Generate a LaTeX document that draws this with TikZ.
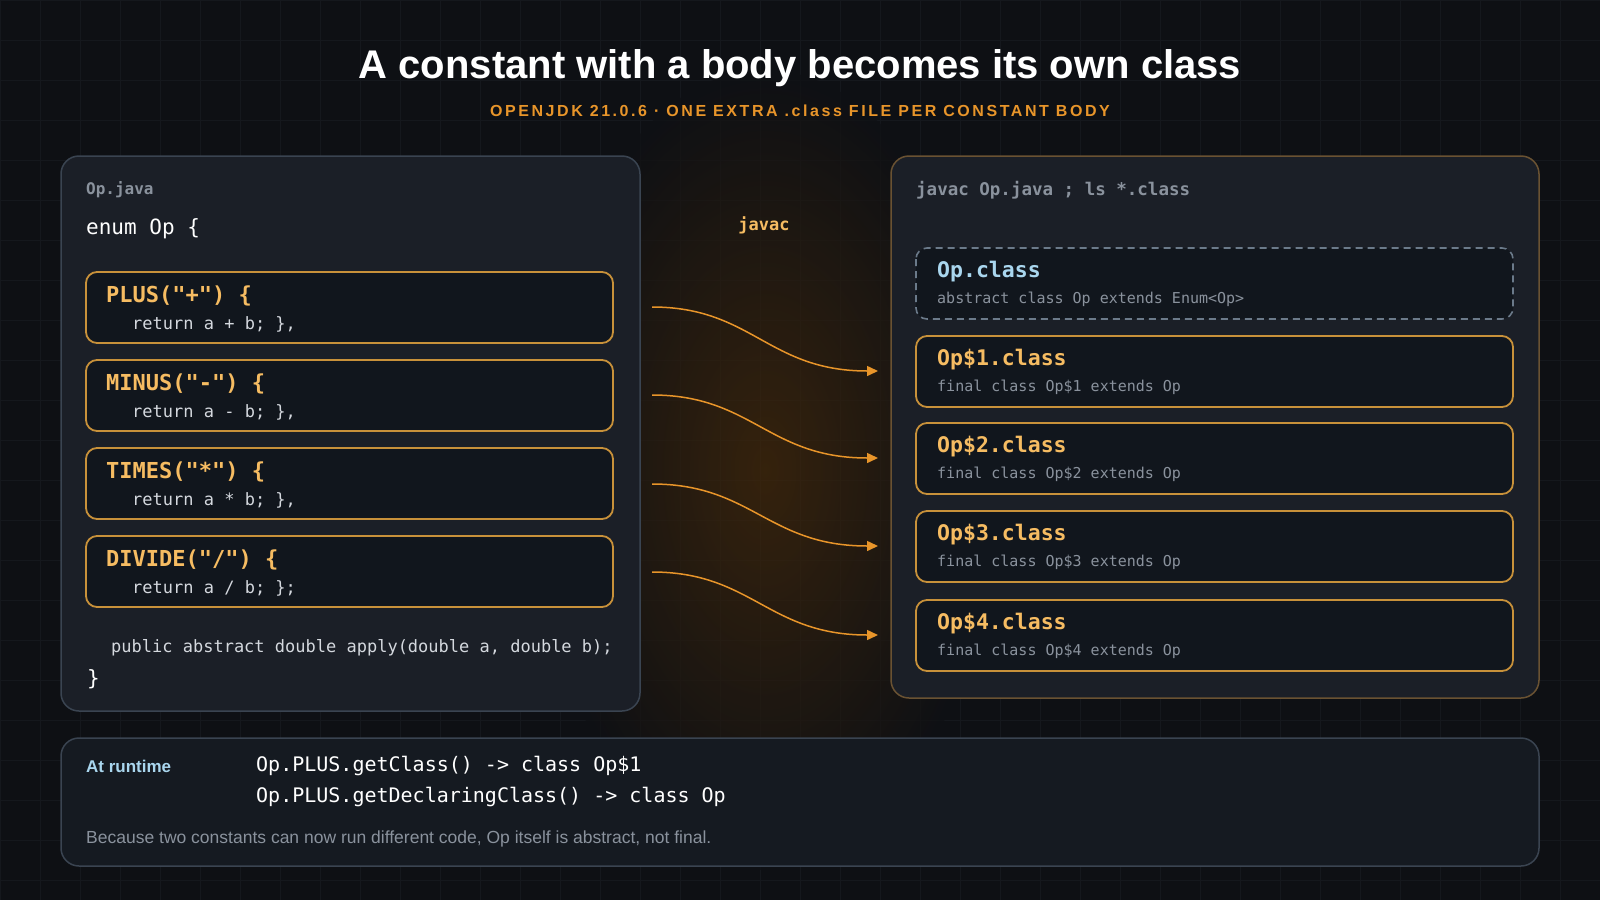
\documentclass[tikz,border=0pt]{standalone}
\usepackage{fontspec}
\setmainfont{Liberation Sans}
\setmonofont{DejaVu Sans Mono}
\usetikzlibrary{arrows.meta,calc}
\definecolor{bg}{HTML}{0E1014}
\definecolor{panel}{HTML}{1B1F27}
\definecolor{pborder}{HTML}{3A4451}
\definecolor{rborder}{HTML}{6A5232}
\definecolor{boxfill}{HTML}{11161D}
\definecolor{oborder}{HTML}{C8913A}
\definecolor{otext}{HTML}{F6BC62}
\definecolor{btext}{HTML}{A9D6EE}
\definecolor{gtext}{HTML}{8A929D}
\definecolor{ctext}{HTML}{D4D8DE}
\definecolor{arrowc}{HTML}{E8952A}
\definecolor{dashc}{HTML}{6B7A8A}
\definecolor{gridc}{HTML}{15181D}
\newcommand{\fs}[1]{\fontsize{#1}{#1}\selectfont}
\tikzset{
  x=1pt,y=-1pt,
  panelL/.style={draw=pborder,line width=1.5,fill=panel,rounded corners=18},
  panelR/.style={draw=rborder,line width=1.5,fill=panel,rounded corners=18},
  ebox/.style={draw=oborder,line width=1.8,fill=boxfill,rounded corners=11},
  dbox/.style={draw=dashc,line width=1.6,dash pattern=on 7 off 5,fill=boxfill,rounded corners=11},
  txt/.style={anchor=west,inner sep=0},
  flow/.style={draw=arrowc,line width=1.5,-{Triangle[length=11,width=10]}},
}
\newcommand{\constbox}[4]{%
  \draw[ebox] (86,#2) rectangle (613,#2+71);
  \coordinate (#1) at (613,#2+35);
  \node[txt,text=otext] (#1h) at (106,#2+24) {\fs{22}\ttfamily\bfseries #3};
  \node[txt,text=ctext] (#1b) at (132,#2+52) {\fs{17}\ttfamily #4};
}
\begin{document}
\begin{tikzpicture}
\useasboundingbox (0,0) rectangle (1600,900);
\fill[bg] (0,0) rectangle (1600,900);
\foreach \i in {0,40,...,1600} \draw[gridc,line width=0.8] (\i,0) -- (\i,900);
\foreach \j in {0,40,...,900} \draw[gridc,line width=0.8] (0,\j) -- (1600,\j);
\shade[inner color={rgb,255:red,70;green,42;blue,10},outer color=bg,opacity=0.7] (765,470) ellipse (230 and 400);

\node[inner sep=0,text=white] (title) at (800,68) {\fs{40}\bfseries A constant with a body becomes its own class};
\node[inner sep=0,text=arrowc] (sub) at (800,111) {\fs{16}\bfseries\addfontfeatures{LetterSpace=16}OPENJDK 21.0.6 · ONE EXTRA .class FILE PER CONSTANT BODY};

% left panel
\draw[panelL] (61,156) rectangle (640,711);
\node[txt,text=gtext] (srcname) at (86,190) {\fs{16}\ttfamily\bfseries Op.java};
\node[txt,text=white] (enumhdr) at (86,229) {\fs{21}\ttfamily enum Op \{};
\constbox{plus}{272}{PLUS("+") \{}{return a + b; \},}
\constbox{minus}{360}{MINUS("-") \{}{return a - b; \},}
\constbox{times}{448}{TIMES("*") \{}{return a * b; \},}
\constbox{divide}{536}{DIVIDE("/") \{}{return a / b; \};}
\node[txt,text=ctext] (apply) at (111,648) {\fs{17}\ttfamily public abstract double apply(double a, double b);};
\node[txt,text=white] (close) at (87,679) {\fs{21}\ttfamily \}};

% right panel
\draw[panelR] (891,156) rectangle (1539,698);
\node[txt,text=gtext] (cmd) at (916,190) {\fs{17.5}\ttfamily\bfseries javac Op.java ; ls *.class};
\draw[dbox] (916,248) rectangle (1513,319);
\node[txt,text=btext] (opclass) at (937,272) {\fs{21.5}\ttfamily\bfseries Op.class};
\node[txt,text=gtext] (opsub) at (937,299) {\fs{15}\ttfamily abstract class Op extends Enum<Op>};
\foreach \k/\y in {1/336,2/423,3/511,4/600}{
  \draw[ebox] (916,\y) rectangle (1513,\y+71);
  \coordinate (c\k) at (878,\y+35);
  \node[txt,text=otext] at (937,\y+24) {\fs{21.5}\ttfamily\bfseries Op\$\k.class};
  \node[txt,text=gtext] at (937,\y+51) {\fs{15}\ttfamily final class Op\$\k{} extends Op};
}

\node[inner sep=0,text=otext] (javac) at (764,225) {\fs{17}\ttfamily\bfseries javac};
\coordinate (s1) at (652,307);
\coordinate (s2) at (652,395);
\coordinate (s3) at (652,484);
\coordinate (s4) at (652,572);
\foreach \k in {1,2,3,4}
  \draw[flow] (s\k) .. controls ($(s\k)+(100,0)$) and ($(c\k)+(-110,0)$) .. (c\k);

% bottom
\draw[panelL,fill=boxfill!60!panel] (61,738) rectangle (1539,866);
\node[txt,text=btext] (rt) at (86,766) {\fs{17}\bfseries At runtime};
\node[txt,text=white] (r1) at (256,766) {\fs{20}\ttfamily Op.PLUS.getClass() -> class Op\$1};
\node[txt,text=white] (r2) at (256,797) {\fs{20}\ttfamily Op.PLUS.getDeclaringClass() -> class Op};
\node[txt,text=gtext] (note) at (86,839) {\fs{17.5}Because two constants can now run different code, Op itself is abstract, not final.};
\end{tikzpicture}
\end{document}
